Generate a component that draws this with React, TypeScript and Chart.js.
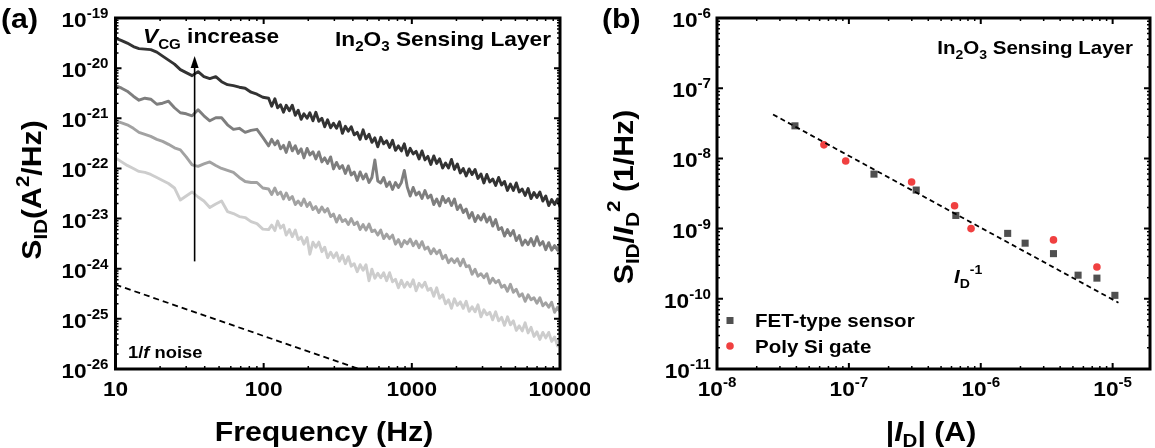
import React, { useEffect, useRef } from 'react';
import { Chart, registerables } from 'chart.js';

Chart.register(...registerables);

const FONT = '"Liberation Sans", Arial, Helvetica, sans-serif';
const SX = 1.08; // horizontal stretch of the original lettering

// ---------------- Panel (a): noise spectra ----------------
const freqHz = [10, 11.0, 12.0, 13.2, 14.4, 15.8, 17.3, 19.0, 20.8, 22.8, 25.0, 27.4, 30.0, 32.9, 36.1, 39.5, 43.3, 47.5, 52.0, 57.0, 62.5, 68.5, 75.0, 82.2, 90.1, 98.7,
  108, 113.3, 119, 124.2, 130, 136.1, 142, 149.1, 156, 163.5, 171, 179.1, 187, 196.3, 205, 215.1, 225, 235.7, 247, 258.3,
  270, 283.1, 296, 310.3, 325, 340.0, 356, 372.6, 390, 408.4, 428, 447.6, 469, 490.6, 514, 537.6, 563, 589.1, 617, 645.7,
  676, 707.6, 741, 775.5, 812, 850, 890, 931.4, 975, 1021, 1069, 1119, 1171, 1226, 1283, 1344, 1406, 1472, 1541, 1614,
  1689, 1768, 1851, 1938, 2029, 2124, 2223, 2327, 2437, 2551, 2671, 2795, 2927, 3064, 3207, 3358, 3515, 3680, 3852, 4033,
  4222, 4420, 4627, 4844, 5070, 5309, 5557, 5818, 6090, 6376, 6674, 6988, 7314, 7659, 8015, 8394, 8784, 9196, 9627, 10000];

// log10 of S_ID (A^2/Hz), highest V_CG first
const logS_vcg4 = [-19.40, -19.45, -19.50, -19.57, -19.61, -19.62, -19.63, -19.68, -19.76, -19.84, -19.92, -20.03, -20.09, -20.15, -20.07, -20.17, -20.21, -20.17, -20.27, -20.33, -20.35, -20.38, -20.40, -20.48, -20.52, -20.58,
  -20.60, -20.76, -20.61, -20.79, -20.73, -20.88, -20.74, -20.85, -20.74, -20.94,
  -20.84, -21.02, -20.91, -21.00, -20.89, -21.05, -20.88, -21.06, -21.00, -21.17,
  -21.03, -21.19, -21.10, -21.20, -21.07, -21.30, -21.16, -21.26, -21.17, -21.33,
  -21.28, -21.42, -21.23, -21.41, -21.32, -21.48, -21.39, -21.57, -21.38, -21.51,
  -21.45, -21.58, -21.44, -21.64, -21.55, -21.65, -21.51, -21.74, -21.60, -21.71,
  -21.66, -21.81, -21.65, -21.83, -21.76, -21.92, -21.75, -21.90, -21.81, -21.99,
  -21.89, -21.99, -21.82, -22.02, -21.91, -22.09, -22.00, -22.15, -22.01, -22.12,
  -22.02, -22.20, -22.11, -22.29, -22.12, -22.27, -22.21, -22.34, -22.18, -22.33,
  -22.26, -22.44, -22.31, -22.44, -22.29, -22.47, -22.41, -22.54, -22.40, -22.60,
  -22.48, -22.58, -22.47, -22.65, -22.55, -22.74, -22.62, -22.72, -22.61, -22.77];
const logS_vcg3 = [-20.35, -20.40, -20.46, -20.56, -20.64, -20.60, -20.62, -20.72, -20.70, -20.66, -20.79, -20.89, -20.91, -20.95, -20.83, -20.95, -21.05, -20.99, -20.99, -21.13, -21.22, -21.20, -21.28, -21.24, -21.22, -21.38,
  -21.55, -21.42, -21.53, -21.45, -21.61, -21.54, -21.68, -21.48, -21.65, -21.55,
  -21.70, -21.61, -21.79, -21.60, -21.73, -21.67, -21.81, -21.67, -21.87, -21.79,
  -21.90, -21.77, -22.01, -21.88, -22.00, -21.94, -22.10, -21.95, -22.13, -22.07,
  -22.24, -22.07, -22.21, -22.11, -22.28, -22.18, -21.83, -22.25, -22.29, -22.18,
  -22.36, -22.27, -22.42, -22.28, -22.38, -22.28, -22.04, -22.37, -22.55, -22.38,
  -22.53, -22.47, -22.60, -22.44, -22.59, -22.53, -22.72, -22.61, -22.75, -22.56,
  -22.68, -22.60, -22.74, -22.61, -22.82, -22.73, -22.88, -22.81, -22.99, -22.88,
  -23.06, -22.94, -23.03, -22.91, -23.07, -22.97, -23.15, -23.02, -23.22, -23.18,
  -23.35, -23.22, -23.34, -23.24, -23.44, -23.34, -23.53, -23.43, -23.52, -23.40,
  -23.54, -23.36, -23.53, -23.46, -23.62, -23.48, -23.63, -23.54, -23.63, -23.50];
const logS_vcg2 = [-21.05, -21.09, -21.13, -21.20, -21.28, -21.32, -21.36, -21.42, -21.46, -21.52, -21.59, -21.63, -21.77, -21.93, -21.96, -21.91, -21.87, -21.94, -22.00, -22.04, -22.08, -22.18, -22.26, -22.28, -22.28, -22.39,
  -22.41, -22.52, -22.39, -22.52, -22.47, -22.61, -22.49, -22.62, -22.56, -22.72,
  -22.65, -22.74, -22.61, -22.76, -22.68, -22.82, -22.76, -22.88, -22.77, -22.87,
  -22.80, -22.96, -22.91, -23.07, -22.94, -23.06, -23.02, -23.12, -23.00, -23.12,
  -23.07, -23.22, -23.12, -23.23, -23.11, -23.26, -23.23, -23.33, -23.23, -23.40,
  -23.31, -23.40, -23.33, -23.51, -23.42, -23.56, -23.44, -23.50, -23.41, -23.54,
  -23.45, -23.58, -23.46, -23.61, -23.57, -23.70, -23.60, -23.70, -23.63, -23.80,
  -23.73, -23.88, -23.80, -23.88, -23.80, -23.94, -23.81, -23.96, -23.94, -24.11,
  -24.01, -24.15, -24.10, -24.18, -24.10, -24.29, -24.19, -24.28, -24.23, -24.37,
  -24.33, -24.45, -24.31, -24.47, -24.41, -24.55, -24.50, -24.65, -24.52, -24.62,
  -24.58, -24.69, -24.58, -24.74, -24.68, -24.77, -24.67, -24.87, -24.77, -24.86];
const logS_vcg1 = [-21.79, -21.87, -21.94, -22.00, -22.06, -22.08, -22.12, -22.18, -22.24, -22.30, -22.39, -22.63, -22.55, -22.47, -22.57, -22.65, -22.78, -22.71, -22.65, -22.86, -22.90, -22.96, -22.98, -23.06, -23.10, -23.21,
  -23.22, -23.13, -23.24, -23.05, -23.19, -23.13, -23.33, -23.22, -23.36, -23.23,
  -23.42, -23.37, -23.51, -23.38, -23.71, -23.47, -23.57, -23.47, -23.66, -23.57,
  -23.78, -23.67, -23.78, -23.68, -23.85, -23.73, -23.90, -23.76, -23.95, -23.90,
  -24.06, -23.92, -24.03, -23.92, -24.24, -24.01, -24.19, -24.09, -24.18, -24.08,
  -24.24, -24.08, -24.26, -24.21, -24.38, -24.23, -24.37, -24.27, -24.36, -24.22,
  -24.44, -24.29, -24.37, -24.27, -24.43, -24.39, -24.55, -24.38, -24.59, -24.52,
  -24.70, -24.62, -24.79, -24.60, -24.73, -24.66, -24.79, -24.65, -24.85, -24.76,
  -24.86, -24.72, -24.96, -24.82, -24.92, -24.87, -25.02, -24.86, -25.04, -24.97,
  -25.13, -24.96, -25.12, -25.04, -25.23, -25.14, -25.24, -25.08, -25.28, -25.17,
  -25.35, -25.26, -25.41, -25.27, -25.38, -25.27, -25.45, -25.36, -25.54, -25.36];

const oneOverFFreq = [10, 440];
const oneOverFNoise = [4.8e-25, 1.0e-26];

const arrowFreq = 34.2;
const arrowFromNoise = 1.4e-24;
const arrowToNoise = 1.74e-20;

const freqTickValues = [10, 100, 1000, 10000];
const freqTickLabels = ['10', '100', '1000', '10000'];
const noiseTickExps = [-26, -25, -24, -23, -22, -21, -20, -19];

// ---------------- Panel (b): normalized noise vs drain current ----------------
const fetCurrent = [3.90e-8, 1.55e-7, 3.24e-7, 6.47e-7, 1.60e-6, 2.17e-6, 3.56e-6, 5.47e-6, 7.60e-6, 1.04e-5];
const fetNoise = [2.91e-8, 5.97e-9, 3.54e-9, 1.54e-9, 8.55e-10, 6.2e-10, 4.40e-10, 2.17e-10, 1.97e-10, 1.12e-10];
const polyCurrent = [6.47e-8, 9.46e-8, 2.99e-7, 6.33e-7, 8.44e-7, 3.56e-6, 7.60e-6];
const polyNoise = [1.56e-8, 9.17e-9, 4.62e-9, 2.12e-9, 1.0e-9, 6.9e-10, 2.84e-10];
const fitCurrent = [2.66e-8, 1.107e-5];
const fitNoise = [4.22e-8, 8.8e-11];

const currentTickExps = [-8, -7, -6, -5];
const ratioTickExps = [-11, -10, -9, -8, -7, -6];

// ---------------- text helpers ----------------
type Seg = { t: string; size: number; italic?: boolean; dy?: number };

function segFont(s: Seg) {
  return `${s.italic ? 'italic ' : ''}bold ${s.size}px ${FONT}`;
}

function drawRich(ctx: CanvasRenderingContext2D, segs: Seg[], x: number, y: number, align: 'left' | 'center' | 'right', rotate = false) {
  ctx.save();
  ctx.translate(x, y);
  if (rotate) ctx.rotate(-Math.PI / 2);
  ctx.scale(SX, 1);
  let w = 0;
  for (const s of segs) {
    ctx.font = segFont(s);
    w += ctx.measureText(s.t).width;
  }
  let cx = align === 'left' ? 0 : align === 'center' ? -w / 2 : -w;
  ctx.textBaseline = 'alphabetic';
  ctx.textAlign = 'left';
  ctx.fillStyle = '#000';
  for (const s of segs) {
    ctx.font = segFont(s);
    ctx.fillText(s.t, cx, s.dy || 0);
    cx += ctx.measureText(s.t).width;
  }
  ctx.restore();
}

function powSegs(e: number): Seg[] {
  return [{ t: '10', size: 21 }, { t: String(e), size: 14, dy: -9 }];
}

function drawFrameAndTicks(chart: any) {
  const ctx: CanvasRenderingContext2D = chart.ctx;
  const { left, right, top, bottom } = chart.chartArea;
  ctx.save();
  ctx.strokeStyle = '#000';
  ctx.lineCap = 'butt';
  for (const axis of ['x', 'y']) {
    const sc = chart.scales[axis];
    const min = sc.min, max = sc.max;
    const lo = Math.floor(Math.log10(min)), hi = Math.ceil(Math.log10(max));
    for (let d = lo; d <= hi; d++) {
      for (let m = 1; m <= 9; m++) {
        const v = m * Math.pow(10, d);
        if (v < min * 0.999 || v > max * 1.001) continue;
        const p = sc.getPixelForValue(v);
        const len = m === 1 ? 6 : 3;
        ctx.lineWidth = m === 1 ? 2 : 1.5;
        ctx.beginPath();
        if (axis === 'x') {
          ctx.moveTo(p, bottom); ctx.lineTo(p, bottom - len);
          ctx.moveTo(p, top); ctx.lineTo(p, top + len);
        } else {
          ctx.moveTo(left, p); ctx.lineTo(left + len, p);
          ctx.moveTo(right, p); ctx.lineTo(right - len, p);
        }
        ctx.stroke();
      }
    }
  }
  ctx.lineWidth = 3;
  ctx.strokeRect(left, top, right - left, bottom - top);
  ctx.restore();
}

const baseScale = {
  type: 'logarithmic' as const,
  display: true,
  ticks: { display: false },
  grid: { display: false },
  border: { display: false },
  title: { display: false },
};

function makeConfigA(): any {
  const curves = [
    { logs: logS_vcg4, color: '#333333' },
    { logs: logS_vcg3, color: '#7e7e7e' },
    { logs: logS_vcg2, color: '#a2a2a2' },
    { logs: logS_vcg1, color: '#cdcdcd' },
  ];
  const plugin = {
    id: 'panelA',
    afterDraw(chart: any) {
      const ctx: CanvasRenderingContext2D = chart.ctx;
      const xs = chart.scales.x, ys = chart.scales.y;
      const { left, bottom } = chart.chartArea;
      drawFrameAndTicks(chart);
      freqTickValues.forEach((v, i) => {
        drawRich(ctx, [{ t: freqTickLabels[i], size: 21 }], xs.getPixelForValue(v), bottom + 27, 'center');
      });
      noiseTickExps.forEach((e) => {
        drawRich(ctx, powSegs(e), left - 7, ys.getPixelForValue(Math.pow(10, e)) + 9, 'right');
      });
      drawRich(ctx, [{ t: 'Frequency (Hz)', size: 28 }], 324, 441, 'center');
      drawRich(ctx, [
        { t: 'S', size: 28 }, { t: 'ID', size: 19, dy: 6 }, { t: '(A', size: 28 }, { t: '2', size: 19, dy: -12 }, { t: '/Hz)', size: 28 },
      ], 41, 190, 'center', true);
      drawRich(ctx, [{ t: '(a)', size: 28 }], 1, 28, 'left');
      drawRich(ctx, [{ t: 'V', size: 21, italic: true }, { t: 'CG', size: 14, dy: 6 }, { t: ' increase', size: 21 }], 143, 43, 'left');
      drawRich(ctx, [
        { t: 'In', size: 21 }, { t: '2', size: 14, dy: 5 }, { t: 'O', size: 21 }, { t: '3', size: 14, dy: 5 }, { t: ' Sensing Layer', size: 21 },
      ], 551, 46, 'right');
      drawRich(ctx, [{ t: '1/', size: 17 }, { t: 'f', size: 17, italic: true }, { t: ' noise', size: 17 }], 128, 358, 'left');
      const ax = xs.getPixelForValue(arrowFreq);
      const y0 = ys.getPixelForValue(arrowFromNoise);
      const y1 = ys.getPixelForValue(arrowToNoise);
      ctx.save();
      ctx.strokeStyle = '#000';
      ctx.fillStyle = '#000';
      ctx.lineWidth = 1.6;
      ctx.beginPath();
      ctx.moveTo(ax, y0);
      ctx.lineTo(ax, y1 + 10);
      ctx.stroke();
      ctx.beginPath();
      ctx.moveTo(ax, y1);
      ctx.lineTo(ax - 4, y1 + 12);
      ctx.lineTo(ax + 4, y1 + 12);
      ctx.closePath();
      ctx.fill();
      ctx.restore();
    },
  };
  return {
    type: 'line',
    data: {
      datasets: [
        ...curves.map((c) => ({
          data: freqHz.map((f, i) => ({ x: f, y: Math.pow(10, c.logs[i]) })),
          borderColor: c.color,
          borderWidth: 2.9,
          pointRadius: 0,
          tension: 0,
          fill: false,
          borderJoinStyle: 'round',
        })),
        {
          data: oneOverFFreq.map((f, i) => ({ x: f, y: oneOverFNoise[i] })),
          borderColor: '#000',
          borderWidth: 1.8,
          borderDash: [6, 4],
          pointRadius: 0,
          fill: false,
        },
      ],
    },
    options: {
      responsive: false,
      animation: false,
      devicePixelRatio: 1,
      layout: { padding: { left: 107.5, right: 30, top: 18, bottom: 71 } },
      plugins: { legend: { display: false }, tooltip: { enabled: false } },
      scales: {
        x: { ...baseScale, min: 10, max: 10000 },
        y: { ...baseScale, min: 1e-26, max: 1e-19 },
      },
    },
    plugins: [plugin],
  };
}

function makeConfigB(): any {
  const squareColor = '#505050';
  const circleColor = '#f04040';
  const plugin = {
    id: 'panelB',
    afterDraw(chart: any) {
      const ctx: CanvasRenderingContext2D = chart.ctx;
      const xs = chart.scales.x, ys = chart.scales.y;
      const { left, bottom } = chart.chartArea;
      drawFrameAndTicks(chart);
      currentTickExps.forEach((e) => {
        drawRich(ctx, powSegs(e), xs.getPixelForValue(Math.pow(10, e)), bottom + 27, 'center');
      });
      ratioTickExps.forEach((e) => {
        drawRich(ctx, powSegs(e), left - 6, ys.getPixelForValue(Math.pow(10, e)) + 9, 'right');
      });
      drawRich(ctx, [
        { t: '|', size: 28 }, { t: 'I', size: 28, italic: true }, { t: 'D', size: 19, dy: 6 }, { t: '| (A)', size: 28 },
      ], 341, 441, 'center');
      drawRich(ctx, [
        { t: 'S', size: 28 }, { t: 'ID', size: 19, dy: 6 }, { t: '/', size: 28 }, { t: 'I', size: 28, italic: true },
        { t: 'D', size: 19, dy: 6 }, { t: '2', size: 19, dy: -13 }, { t: ' (1/Hz)', size: 28 },
      ], 43, 197, 'center', true);
      drawRich(ctx, [{ t: '(b)', size: 28 }], 12, 28, 'left');
      drawRich(ctx, [
        { t: 'In', size: 19 }, { t: '2', size: 13, dy: 5 }, { t: 'O', size: 19 }, { t: '3', size: 13, dy: 5 }, { t: ' Sensing Layer', size: 19 },
      ], 543, 54, 'right');
      drawRich(ctx, [{ t: 'I', size: 19, italic: true }, { t: 'D', size: 13, dy: 5 }, { t: '-1', size: 13, dy: -9 }], 364, 283, 'left');
      ctx.save();
      ctx.fillStyle = squareColor;
      ctx.fillRect(140 - 3.5, 320.5 - 3.5, 7, 7);
      ctx.fillStyle = circleColor;
      ctx.beginPath();
      ctx.arc(140, 346, 3.8, 0, Math.PI * 2);
      ctx.fill();
      ctx.restore();
      drawRich(ctx, [{ t: 'FET-type sensor', size: 19 }], 165, 327, 'left');
      drawRich(ctx, [{ t: 'Poly Si gate', size: 19 }], 165, 352.5, 'left');
    },
  };
  return {
    type: 'scatter',
    data: {
      datasets: [
        {
          data: fitCurrent.map((x, i) => ({ x, y: fitNoise[i] })),
          showLine: true,
          borderColor: '#000',
          borderWidth: 1.8,
          borderDash: [5, 3.5],
          pointRadius: 0,
          fill: false,
        },
        {
          data: fetCurrent.map((x, i) => ({ x, y: fetNoise[i] })),
          pointStyle: 'rect',
          pointRadius: 5,
          backgroundColor: squareColor,
          borderWidth: 0,
        },
        {
          data: polyCurrent.map((x, i) => ({ x, y: polyNoise[i] })),
          pointStyle: 'circle',
          pointRadius: 3.8,
          backgroundColor: circleColor,
          borderWidth: 0,
        },
      ],
    },
    options: {
      responsive: false,
      animation: false,
      devicePixelRatio: 1,
      layout: { padding: { left: 119, right: 3, top: 18, bottom: 71 } },
      plugins: { legend: { display: false }, tooltip: { enabled: false } },
      scales: {
        x: { ...baseScale, min: 1e-8, max: 1.92e-5 },
        y: { ...baseScale, min: 1e-11, max: 1e-6 },
      },
    },
    plugins: [plugin],
  };
}

export default function App() {
  const refA = useRef<HTMLCanvasElement>(null);
  const refB = useRef<HTMLCanvasElement>(null);
  useEffect(() => {
    const a = new Chart(refA.current as HTMLCanvasElement, makeConfigA());
    const b = new Chart(refB.current as HTMLCanvasElement, makeConfigB());
    return () => {
      a.destroy();
      b.destroy();
    };
  }, []);
  return (
    <div style={{ position: 'fixed', left: 0, top: 0, width: 1155, height: 448, background: '#fff' }}>
      <canvas ref={refA} width={590} height={448} style={{ position: 'absolute', left: 0, top: 0, width: 590, height: 448 }} />
      <canvas ref={refB} width={565} height={448} style={{ position: 'absolute', left: 590, top: 0, width: 565, height: 448 }} />
    </div>
  );
}
